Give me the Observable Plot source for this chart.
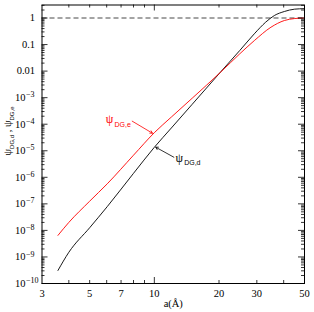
<!DOCTYPE html>
<html>
<head>
<meta charset="utf-8">
<script src="https://cdn.jsdelivr.net/npm/d3@7"></script>
<script src="https://cdn.jsdelivr.net/npm/@observablehq/plot@0.6"></script>
<style>
  html, body { margin: 0; padding: 0; background: white; }
</style>
</head>
<body>
<div id="chart"></div>
<script>
// ψ_DG,e (red)
const aE   = [3.56, 4.0, 5.0, 6.04, 8.0, 10.0, 12.0, 15.0, 20.4, 25.0, 29.2, 34.9, 40.3, 45.0, 50.0];
const psiE = [6.5e-9, 2.0e-8, 1.26e-7, 5.7e-7, 6.8e-6, 4.8e-5, 1.86e-4, 9.5e-4, 9.3e-3, 4.5e-2, 0.141, 0.45, 0.805, 0.955, 1.0];
// ψ_DG,d (black)
const aD   = [3.56, 4.0, 5.0, 6.04, 8.0, 10.0, 12.0, 15.0, 20.4, 25.0, 29.2, 33.0, 36.2, 40.3, 44.9, 50.0];
const psiD = [3.1e-10, 1.5e-9, 1.26e-8, 7.9e-8, 1.41e-6, 1.35e-5, 7.2e-5, 5.6e-4, 9.5e-3, 6.0e-2, 0.254, 0.70, 1.24, 1.76, 2.15, 2.25];

// axis ticks
const xTickLabels = [3, 5, 7, 10, 20, 30, 50];
const xMajorTicks = [10];
const xMinorTicks = [4, 5, 6, 7, 8, 9, 20, 30, 40];
const yPlainTicks = [1, 0.1, 0.01];
const yPlainLabels = ["1", "0.1", "0.01"];
const yExpTicks = [-3, -4, -5, -6, -7, -8, -9, -10];

// annotations
const annA   = [6.18, 13.05];
const annPsi = [1.5e-4, 5.33e-6];
const annSub = ["DG,e", "DG,d"];
const annCol = ["#ff0000", "#000000"];
const arrA1 = [7.89, 12.33], arrV1 = [1.30e-4, 5.7e-6];
const arrA2 = [9.80, 10.15], arrV2 = [4.58e-5, 1.36e-5];

const W = 314, H = 312;
const mL = 41.5, mR = 10, mT = 4.5, mB = 29;
const pw = W - mL - mR, ph = H - mT - mB;
const yTop = Math.pow(10, 0.49);

const redRows = aE.map((a, i) => ({a, v: psiE[i]}));
const blackRows = aD.map((a, i) => ({a, v: psiD[i]}));
const yMajor = d3.range(-10, 1).map(k => Math.pow(10, k));
const yMinor = [];
for (let k = -10; k <= 0; k++) for (let m = 2; m <= 9; m++) { const v = m * Math.pow(10, k); if (v < yTop) yMinor.push(v); }
const plainRows = yPlainTicks.map((v, i) => ({v, t: yPlainLabels[i]}));
const expRows = yExpTicks.map(e => ({v: Math.pow(10, e), t: "\u2212" + Math.abs(e)}));
const annRows = annA.map((a, i) => ({a, v: annPsi[i], sub: annSub[i], c: annCol[i]}));
const arrRows = arrA1.map((a, i) => ({a1: a, v1: arrV1[i], a2: arrA2[i], v2: arrV2[i], c: annCol[i]}));

const serif = "'Liberation Serif', 'Times New Roman', 'DejaVu Serif', serif";
const sans = "'Liberation Sans', Arial, 'DejaVu Sans', sans-serif";

function yTitle() {
  const t = d3.create("svg:text")
    .attr("transform", "translate(11,131) rotate(-90)")
    .attr("text-anchor", "middle")
    .attr("fill", "black")
    .style("font-family", serif);
  t.append("tspan").attr("font-size", 10.5).text("ψ");
  t.append("tspan").attr("font-size", 6).style("font-family", sans).attr("dy", 2.5).text("DG,d");
  t.append("tspan").attr("font-size", 10.5).attr("dy", -2.5).text(" , ");
  t.append("tspan").attr("font-size", 10.5).text("ψ");
  t.append("tspan").attr("font-size", 6).style("font-family", sans).attr("dy", 2.5).text("DG,e");
  return t.node();
}

const chart = Plot.plot({
  width: W, height: H,
  marginLeft: mL, marginRight: mR, marginTop: mT, marginBottom: mB,
  style: {fontFamily: serif, fontSize: "10.5px", background: "white", color: "black"},
  x: {type: "log", domain: [3, 50], axis: null},
  y: {type: "log", domain: [1e-10, yTop], axis: null},
  marks: [
    Plot.ruleY([1], {stroke: "#333", strokeWidth: 0.9, strokeDasharray: "5,3"}),
    Plot.line(blackRows, {x: "a", y: "v", stroke: "#000", strokeWidth: 0.9, curve: "monotone-x"}),
    Plot.line(redRows, {x: "a", y: "v", stroke: "#ff0000", strokeWidth: 0.9, curve: "monotone-x"}),
    // inward ticks
    Plot.tickY(yMajor, {y: d => d, insetRight: pw - 6, strokeWidth: 0.8}),
    Plot.tickY(yMinor, {y: d => d, insetRight: pw - 3, strokeWidth: 0.8}),
    Plot.tickY(yMajor, {y: d => d, insetLeft: pw - 6, strokeWidth: 0.8}),
    Plot.tickY(yMinor, {y: d => d, insetLeft: pw - 3, strokeWidth: 0.8}),
    Plot.tickX(xMajorTicks, {x: d => d, insetTop: ph - 6, strokeWidth: 0.8}),
    Plot.tickX(xMinorTicks, {x: d => d, insetTop: ph - 3, strokeWidth: 0.8}),
    Plot.tickX(xMajorTicks, {x: d => d, insetBottom: ph - 6, strokeWidth: 0.8}),
    Plot.tickX(xMinorTicks, {x: d => d, insetBottom: ph - 3, strokeWidth: 0.8}),
    Plot.frame({stroke: "black", strokeWidth: 1}),
    // x axis labels
    Plot.text(xTickLabels, {x: d => d, frameAnchor: "bottom", text: d => String(d), dy: 10.5, lineAnchor: "middle", fontSize: 10.5, fontFamily: serif}),
    Plot.text(["a(Å)"], {frameAnchor: "bottom", text: d => d, dy: 20, lineAnchor: "middle", fontSize: 10.5, fontFamily: serif}),
    // y axis labels
    Plot.text(plainRows, {frameAnchor: "left", y: "v", text: "t", textAnchor: "end", dx: -7, fontSize: 10.5, fontFamily: serif}),
    Plot.text(expRows, {frameAnchor: "left", y: "v", text: () => "10", textAnchor: "end", dx: -16.5, fontSize: 10.5, fontFamily: serif}),
    Plot.text(expRows, {frameAnchor: "left", y: "v", text: "t", textAnchor: "start", dx: -16, dy: -3, fontSize: 8, fontFamily: serif}),
    // annotations
    Plot.arrow(arrRows, {x1: "a1", y1: "v1", x2: "a2", y2: "v2", stroke: "c", strokeWidth: 0.8, headLength: 5}),
    Plot.text(annRows, {x: "a", y: "v", text: () => "ψ", fill: "c", fontSize: 12, fontFamily: serif}),
    Plot.text(annRows, {x: "a", y: "v", text: "sub", fill: "c", textAnchor: "start", dx: 5, dy: 5, fontSize: 7, fontFamily: sans}),
    yTitle
  ]
});
document.getElementById("chart").appendChild(chart);
</script>
</body>
</html>
